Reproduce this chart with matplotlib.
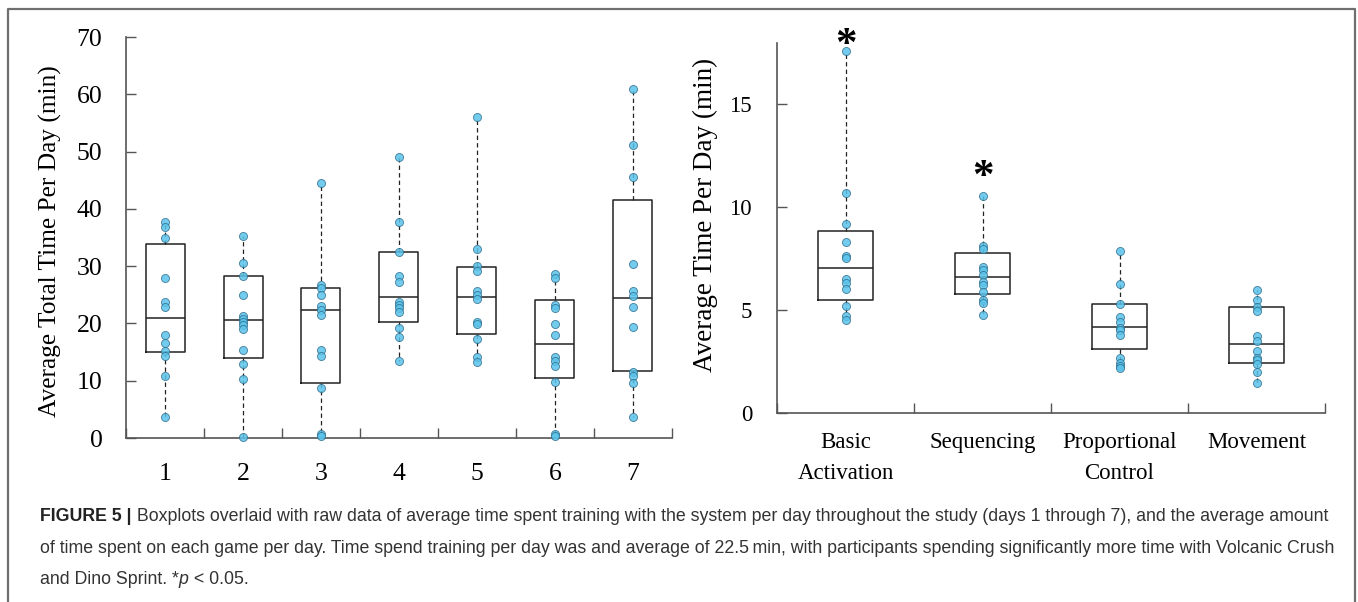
import matplotlib
matplotlib.use("Agg")
import matplotlib.pyplot as plt
from matplotlib.lines import Line2D

# left panel: average total time per day, days 1-7
days = ["1", "2", "3", "4", "5", "6", "7"]
day1 = [37.8, 36.8, 35.0, 27.9, 23.8, 22.8, 18.0, 16.6, 15.2, 14.3, 10.9, 3.7]
day2 = [35.2, 30.6, 28.2, 24.9, 21.3, 20.8, 20.3, 19.8, 19.0, 15.4, 13.0, 10.3, 0.1]
day3 = [44.5, 26.7, 26.2, 25.0, 23.1, 22.4, 21.5, 15.4, 14.4, 8.8, 0.7, 0.3]
day4 = [49.0, 37.7, 32.5, 28.3, 27.3, 23.8, 23.3, 22.7, 22.0, 19.2, 17.7, 13.5]
day5 = [56.0, 33.0, 30.1, 29.2, 25.6, 25.0, 24.2, 20.3, 19.9, 17.3, 14.2, 13.3]
day6 = [28.6, 28.0, 23.3, 22.7, 19.9, 18.0, 14.2, 13.4, 12.5, 9.7, 0.7, 0.3]
day7 = [61.0, 51.2, 45.5, 30.4, 25.7, 24.8, 22.8, 19.4, 11.5, 10.9, 9.6, 3.7]
day_points = [day1, day2, day3, day4, day5, day6, day7]
day_q1 = [15.0, 14.0, 9.6, 20.3, 18.2, 10.5, 11.7]
day_med = [20.9, 20.6, 22.4, 24.6, 24.7, 16.4, 24.5]
day_q3 = [33.8, 28.2, 26.2, 32.5, 29.9, 24.1, 41.5]

# right panel: average time per game per day
games = ["Basic\nActivation", "Sequencing", "Proportional\nControl", "Movement"]
basic = [17.6, 10.7, 9.2, 8.3, 7.6, 7.5, 6.5, 6.3, 6.0, 5.2, 4.7, 4.5]
sequencing = [10.55, 8.1, 7.94, 7.1, 6.94, 6.69, 6.37, 6.2, 5.88, 5.48, 5.32, 4.75]
proportional = [7.86, 6.26, 5.27, 4.64, 4.43, 4.14, 4.02, 3.76, 2.64, 2.40, 2.27, 2.16]
movement = [5.97, 5.48, 5.15, 4.96, 3.73, 3.49, 3.0, 2.67, 2.56, 2.35, 1.99, 1.43]
game_points = [basic, sequencing, proportional, movement]
game_q1 = [5.48, 5.75, 3.11, 2.43]
game_med = [7.02, 6.58, 4.18, 3.34]
game_q3 = [8.85, 7.78, 5.27, 5.12]
signif_y = [17.85, 11.4, None, None]

serif = ["Liberation Serif", "DejaVu Serif"]
spine_col = "#555555"
dot_face = "#5bc3ea"
dot_edge = "#2b6a8a"


def draw_panel(ax, points, q1, med, q3, width):
    stats = []
    for p, a, m, b in zip(points, q1, med, q3):
        stats.append(dict(q1=a, med=m, q3=b, whislo=min(p), whishi=max(p), fliers=[]))
    pos = list(range(1, len(points) + 1))
    ax.bxp(stats, positions=pos, widths=width, showcaps=False, showfliers=False,
           boxprops=dict(color="#222222", linewidth=1.1),
           medianprops=dict(color="#222222", linewidth=1.1),
           whiskerprops=dict(color="#222222", linewidth=0.9, linestyle=(0, (3.5, 2.5))))
    for i, p in enumerate(points):
        ax.plot([pos[i]] * len(p), p, "o", ms=5.8, mfc=dot_face, mec=dot_edge,
                mew=0.6, alpha=0.85, zorder=5, clip_on=False)
    n = len(points)
    ax.set_xlim(0.5, n + 0.5)
    ax.set_xticks(pos)
    ax.set_xticks([k + 0.5 for k in range(n + 1)], minor=True)
    ax.tick_params(axis="x", which="major", length=0)
    ax.tick_params(axis="x", which="minor", direction="in", length=7, color=spine_col, width=1)
    ax.tick_params(axis="y", direction="in", length=7, color=spine_col, width=1)
    for s in ["top", "right"]:
        ax.spines[s].set_visible(False)
    for s in ["left", "bottom"]:
        ax.spines[s].set_color(spine_col)
        ax.spines[s].set_linewidth(1.2)


fig = plt.figure(figsize=(13.58, 6.02), dpi=100)

ax1 = fig.add_axes([0.0928, 0.2724, 0.402, 0.666])
draw_panel(ax1, day_points, day_q1, day_med, day_q3, 0.5)
ax1.set_ylim(0, 70)
ax1.set_yticks(range(0, 71, 10))
ax1.set_xticklabels(days, fontfamily=serif, fontsize=18.5)
ax1.tick_params(axis="x", which="major", pad=18)
ax1.tick_params(axis="y", pad=17, labelsize=18.5)
for t in ax1.get_yticklabels():
    t.set_fontfamily(serif)
ax1.set_ylabel("Average Total Time Per Day (min)", fontfamily=serif, fontsize=18.3)
ax1.yaxis.set_label_coords(-0.118, 0.49)

ax2 = fig.add_axes([0.5722, 0.3144, 0.4035, 0.615])
draw_panel(ax2, game_points, game_q1, game_med, game_q3, 0.4)
ax2.set_ylim(0, 18)
ax2.set_yticks([0, 5, 10, 15])
ax2.set_xticklabels(games, fontfamily=serif, fontsize=16.5, linespacing=1.6)
ax2.tick_params(axis="x", which="major", pad=14)
ax2.tick_params(axis="y", pad=18, labelsize=16.5)
for t in ax2.get_yticklabels():
    t.set_fontfamily(serif)
ax2.set_ylabel("Average Time Per Day (min)", fontfamily=serif, fontsize=19.5)
ax2.yaxis.set_label_coords(-0.108, 0.535)
for i, y in enumerate(signif_y):
    if y is not None:
        ax2.text(i + 1, y, "*", ha="center", va="center", fontfamily=serif,
                 fontsize=31, fontweight="bold", clip_on=False)

# frame around figure
fig.add_artist(Line2D([0.0059, 0.0059, 0.9981, 0.9981], [0.0, 0.985, 0.985, 0.0],
                      transform=fig.transFigure, color="#6f6f6f", linewidth=1.6))

# caption
cap_font = ["Liberation Sans", "DejaVu Sans"]
cap_col = "#333333"
cap_size = 12.8
lines = [
    ("FIGURE 5 |", " Boxplots overlaid with raw data of average time spent training with the system per day throughout the study (days 1 through 7), and the average amount"),
    (None, "of time spent on each game per day. Time spend training per day was and average of 22.5\u2009min, with participants spending significantly more time with Volcanic Crush"),
]
ys = [0.128, 0.074]
first = fig.text(0.0295, ys[0], lines[0][0], fontfamily=cap_font, fontsize=cap_size,
                 fontweight="bold", color="#222222", va="bottom")
ax1.annotate(lines[0][1], xy=(1, 0), xycoords=first, va="bottom", ha="left",
             fontfamily=cap_font, fontsize=cap_size, color=cap_col)
fig.text(0.0295, ys[1], lines[1][1], fontfamily=cap_font, fontsize=cap_size,
         color=cap_col, va="bottom")
t3 = fig.text(0.0295, 0.024, "and Dino Sprint. *", fontfamily=cap_font, fontsize=cap_size,
              color=cap_col, va="bottom")
t4 = ax1.annotate("p", xy=(1, 0), xycoords=t3, va="bottom", ha="left", fontfamily=cap_font,
                  fontsize=cap_size, color=cap_col, fontstyle="italic")
ax1.annotate(" < 0.05.", xy=(1, 0), xycoords=t4, va="bottom", ha="left", fontfamily=cap_font,
             fontsize=cap_size, color=cap_col)

fig.savefig("out.png", dpi=100)
